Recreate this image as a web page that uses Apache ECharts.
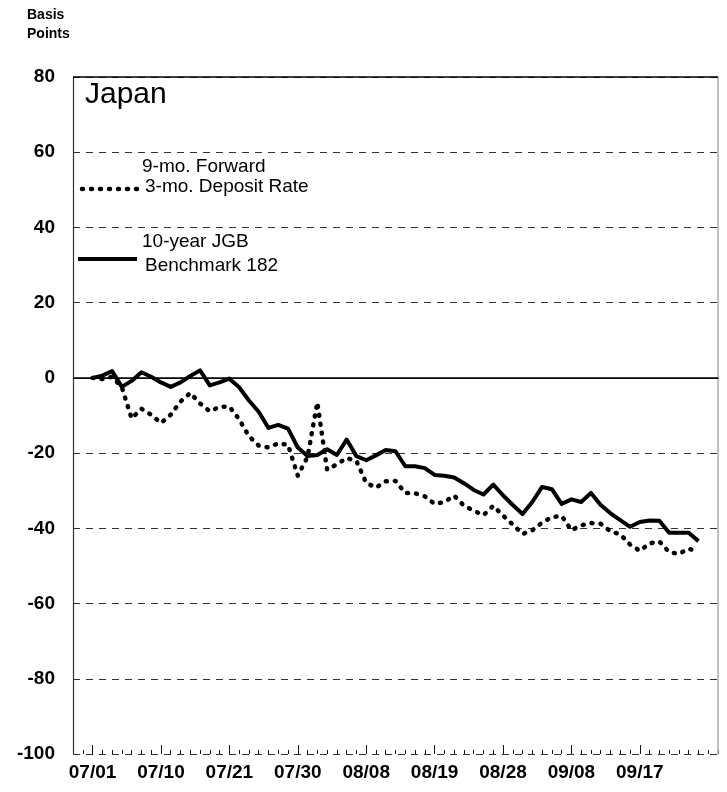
<!DOCTYPE html>
<html>
<head>
<meta charset="utf-8">
<script src="https://cdn.jsdelivr.net/npm/echarts@6/dist/echarts.min.js"></script>
<style>
  html, body { margin: 0; padding: 0; background: #fff; }
  #main { width: 727px; height: 792px; }
</style>
</head>
<body>
<div id="main"></div>
<script>
// business days on the axis (two spare days at each end, as in the original)
var axisDates = [
    '06/27', '06/30',
    '07/01', '07/02', '07/03', '07/04', '07/07', '07/08', '07/09', '07/10', '07/11',
    '07/14', '07/15', '07/16', '07/17', '07/18', '07/21', '07/22', '07/23', '07/24',
    '07/25', '07/28', '07/29', '07/30', '07/31',
    '08/01', '08/04', '08/05', '08/06', '08/07', '08/08', '08/11', '08/12', '08/13',
    '08/14', '08/15', '08/18', '08/19', '08/20', '08/21', '08/22', '08/25', '08/26',
    '08/27', '08/28', '08/29',
    '09/01', '09/02', '09/03', '09/04', '09/05', '09/08', '09/09', '09/10', '09/11',
    '09/12', '09/15', '09/16', '09/17', '09/18', '09/19', '09/22', '09/23', '09/24',
    '09/25', '09/26', '09/29'
];
// observations run 07/01 .. 09/25
var obsDates = axisDates.slice(2, 65);
// dates that get a label and a long tick
var tickLabels = ['07/01', '07/10', '07/21', '07/30', '08/08', '08/19', '08/28', '09/08', '09/17'];

// 10-year JGB Benchmark 182, change in basis points
var jgb = [
    0, 0.6, 1.8, -2.4, -0.8, 1.5, 0.3, -1.2, -2.4, -1.2,
    0.5, 2, -2, -1.2, -0.2, -2.5, -6, -9, -13.3, -12.5,
    -13.5, -18.5, -20.8, -20.5, -19, -20.5, -16.4, -20.8, -21.9, -20.6,
    -19.2, -19.5, -23.5, -23.5, -24, -25.8, -26, -26.5, -28, -29.8,
    -31, -28.4, -31.2, -33.8, -36.2, -33, -29, -29.6, -33.5, -32.3,
    -33, -30.6, -33.8, -36, -37.8, -39.6, -38.3, -37.9, -38, -41.2,
    -41.2, -41.2, -43.4
];
// 9-mo. forward 3-mo. deposit rate, change in basis points
var fwd = [
    0, -0.3, 0.3, -2.5, -10.8, -8.2, -9.8, -12, -9.8, -6.3,
    -4, -6.8, -8.9, -7.7, -7.6, -11, -15.5, -18, -18.5, -17.4,
    -17.8, -26, -21, -6.5, -24.4, -23, -21.3, -22.1, -27.9, -29.2,
    -27.5, -27.4, -30.6, -30.7, -31.5, -33.5, -33, -31.3, -34, -35.3,
    -36.5, -34, -36.6, -39, -41.5, -40.5, -38.5, -37, -36.7, -40.5,
    -39.2, -38.6, -38.8, -40.8, -41.6, -44.3, -46, -44, -43.5, -46.3,
    -46.8, -45.4, -46.3
];

var yMin = -100, yMax = 80, yStep = 20;
var FONT = '"Liberation Sans", Arial, sans-serif';
var PLOT = { left: 73, right: 9, top: 77, bottom: 38 };

function pairs(values) {
    return values.map(function (v, i) { return [obsDates[i], v]; });
}
function isLabelDay(idx, name) {
    return tickLabels.indexOf(name) >= 0;
}
// thin strip along the bottom of the plot used to draw the tick marks
function tickStrip(gridIndex, interval) {
    return {
        type: 'category',
        gridIndex: gridIndex,
        data: axisDates,
        boundaryGap: false,
        axisLine: { show: false },
        axisTick: { show: false },
        axisLabel: { show: false },
        splitLine: { show: true, interval: interval, lineStyle: { color: '#111', width: 1 } }
    };
}
function hiddenY(gridIndex) {
    return { type: 'value', gridIndex: gridIndex, min: 0, max: 1, show: false };
}

var myChart = echarts.init(document.getElementById('main'));
myChart.setOption({
    animation: false,
    backgroundColor: '#fff',
    grid: [
        PLOT,
        { left: PLOT.left, right: PLOT.right, bottom: PLOT.bottom, height: 4 },
        { left: PLOT.left, right: PLOT.right, bottom: PLOT.bottom, height: 9 }
    ],
    xAxis: [{
        type: 'category',
        data: axisDates,
        boundaryGap: false,
        axisLine: { lineStyle: { color: '#222', width: 1.2 } },
        axisTick: { show: false },
        axisLabel: {
            interval: isLabelDay,
            margin: 9,
            color: '#000',
            fontFamily: FONT,
            fontWeight: 'bold',
            fontSize: 19
        },
        splitLine: { show: false }
    }, tickStrip(1, 0), tickStrip(2, isLabelDay)],
    yAxis: [{
        type: 'value',
        min: yMin,
        max: yMax,
        interval: yStep,
        axisLine: { show: true, lineStyle: { color: '#333', width: 1.2 } },
        axisTick: { show: false },
        axisLabel: {
            margin: 18,
            color: '#000',
            fontFamily: FONT,
            fontWeight: 'bold',
            fontSize: 19
        },
        splitLine: { show: true, lineStyle: { color: '#333', type: [7, 6], width: 1 } }
    }, {
        type: 'value',
        min: yMin,
        max: yMax,
        interval: yStep,
        position: 'right',
        axisLine: { show: true, lineStyle: { color: '#aaa', width: 1.5 } },
        axisTick: { show: false },
        axisLabel: { show: false },
        splitLine: { show: false }
    }, hiddenY(1), hiddenY(2)],
    series: [{
        name: '10-year JGB Benchmark 182',
        type: 'line',
        data: pairs(jgb),
        showSymbol: false,
        lineStyle: { color: '#000', width: 4, join: 'round' },
        markLine: {
            silent: true,
            symbol: 'none',
            label: { show: false },
            lineStyle: { color: '#000', type: 'solid', width: 1.5 },
            data: [{ yAxis: 0 }, { yAxis: yMax }]
        },
        z: 3
    }, {
        name: '9-mo. Forward 3-mo. Deposit Rate',
        type: 'line',
        data: pairs(fwd),
        showSymbol: false,
        lineStyle: { color: '#000', width: 4.5, type: [1, 8], cap: 'round', join: 'round' },
        z: 2
    }],
    graphic: [
        { type: 'text', left: 27, top: 8, style: { text: 'Basis', fill: '#000', font: 'bold 14px ' + FONT } },
        { type: 'text', left: 27, top: 27, style: { text: 'Points', fill: '#000', font: 'bold 14px ' + FONT } },
        { type: 'text', left: 85, top: 80, style: { text: 'Japan', fill: '#000', font: '30px ' + FONT } },
        { type: 'text', left: 142, top: 157, style: { text: '9-mo. Forward', fill: '#000', font: '19px ' + FONT } },
        { type: 'text', left: 145, top: 177, style: { text: '3-mo. Deposit Rate', fill: '#000', font: '19px ' + FONT } },
        {
            type: 'line',
            shape: { x1: 82, y1: 189, x2: 138, y2: 189 },
            style: { stroke: '#000', lineWidth: 4.5, lineDash: [1, 8], lineCap: 'round' }
        },
        { type: 'text', left: 142, top: 232, style: { text: '10-year JGB', fill: '#000', font: '19px ' + FONT } },
        { type: 'text', left: 145, top: 256, style: { text: 'Benchmark 182', fill: '#000', font: '19px ' + FONT } },
        {
            type: 'line',
            shape: { x1: 78, y1: 259, x2: 137, y2: 259 },
            style: { stroke: '#000', lineWidth: 4 }
        }
    ]
});
</script>
</body>
</html>
